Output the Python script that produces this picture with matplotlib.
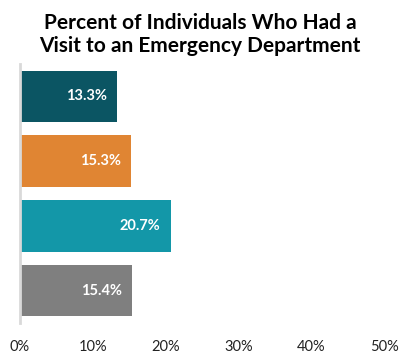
import matplotlib.pyplot as plt

# chart data
groups = ['Group 1', 'Group 2', 'Group 3', 'Group 4']
values = [13.3, 15.3, 20.7, 15.4]
colors = ['#0B5563', '#E08533', '#1397A8', '#7F7F7F']
xticks = [0, 10, 20, 30, 40, 50]

plt.rcParams['font.family'] = ['Lato', 'DejaVu Sans']

fig = plt.figure(figsize=(4.0, 3.54), dpi=100)
ax = fig.add_axes([0.05, 0.088, 0.91, 0.731])

ypos = list(range(len(values)))
ax.barh(ypos, values, height=0.8, color=colors)
ax.set_ylim(len(values) - 0.5, -0.5)
ax.set_xlim(0, 50)

for y, v in zip(ypos, values):
    ax.text(v - 1.4, y, f'{v:.1f}%', ha='right', va='center',
            color='white', fontsize=10.5, fontweight='bold')

ax.set_xticks(xticks)
ax.set_xticklabels([f'{t}%' for t in xticks], fontsize=10.5, color='#222222')
ax.set_yticks([])
ax.tick_params(axis='x', length=0, pad=12)

for s in ['top', 'right', 'bottom']:
    ax.spines[s].set_visible(False)
ax.spines['left'].set_color('#D9D9D9')
ax.spines['left'].set_linewidth(2)

fig.suptitle('Percent of Individuals Who Had a\nVisit to an Emergency Department',
             y=0.963, fontsize=15, fontweight='bold', linespacing=1.2)

fig.savefig('out.png', dpi=100)
